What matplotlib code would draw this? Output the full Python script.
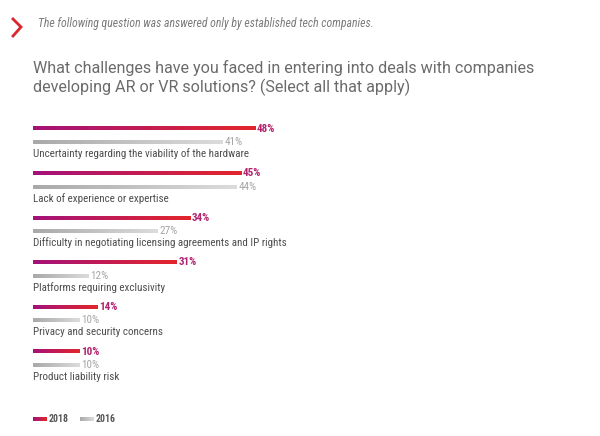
import matplotlib.pyplot as plt
import matplotlib.colors as mcolors
import numpy as np

challenges = [
    'Uncertainty regarding the viability of the hardware',
    'Lack of experience or expertise',
    'Difficulty in negotiating licensing agreements and IP rights',
    'Platforms requiring exclusivity',
    'Privacy and security concerns',
    'Product liability risk',
]
values_2018 = [48, 45, 34, 31, 14, 10]
values_2016 = [41, 44, 27, 12, 10, 10]

title = ('What challenges have you faced in entering into deals with companies\n'
         'developing AR or VR solutions? (Select all that apply)')
note = 'The following question was answered only by established tech companies.'

cmap_2018 = mcolors.LinearSegmentedColormap.from_list('y2018', ['#a3127a', '#e3262b'])
cmap_2016 = mcolors.LinearSegmentedColormap.from_list('y2016', ['#a9a9a9', '#dcdcdc'])
grad = np.linspace(0, 1, 256).reshape(1, -1)

COND = ['Roboto Condensed', 'Liberation Sans Narrow', 'Roboto']
plt.rcParams['font.family'] = COND

fig = plt.figure(figsize=(6, 4.36), dpi=100)
fig.patch.set_facecolor('white')
# x in percent, y in pixels from the top
ax = fig.add_axes([33 / 600, 0, 462.5 / 600, 1])
ax.set_xlim(0, 100)
ax.set_ylim(436, 0)
ax.axis('off')

top = 128.5
step = 44.6
bar_h = 4
for i, name in enumerate(challenges):
    y1 = top + i * step
    y2 = y1 + 13.5
    ax.imshow(grad, cmap=cmap_2018, aspect='auto', interpolation='bicubic',
              extent=[0, values_2018[i], y1 + bar_h / 2, y1 - bar_h / 2])
    ax.imshow(grad, cmap=cmap_2016, aspect='auto', interpolation='bicubic',
              extent=[0, values_2016[i], y2 + bar_h / 2, y2 - bar_h / 2])
    ax.text(values_2018[i] + 0.4, y1, f'{values_2018[i]}%', fontsize=8,
            fontweight='bold', color='#b3246f', va='center', ha='left')
    ax.text(values_2016[i] + 0.4, y2, f'{values_2016[i]}%', fontsize=8,
            color='#a6a6a6', va='center', ha='left')
    ax.text(0, y2 + 11.5, name, fontsize=7.9, color='#4d4d4d', va='center', ha='left')

# legend
ly = 419
ax.imshow(grad, cmap=cmap_2018, aspect='auto', extent=[0, 2.9, ly + 2, ly - 2])
ax.text(3.4, ly, '2018', fontsize=7, fontweight='bold', color='#555555', va='center')
ax.imshow(grad, cmap=cmap_2016, aspect='auto', extent=[10.2, 13.1, ly + 2, ly - 2])
ax.text(13.6, ly, '2016', fontsize=7, fontweight='bold', color='#555555', va='center')

fig.text(33 / 600, 1 - 78 / 436, title, fontsize=11.6, color='#6b6b6b',
         family=['Roboto'], va='center', ha='left', linespacing=1.2)
fig.text(38 / 600, 1 - 24 / 436, note, fontsize=8.5, color='#7a7a7a',
         style='italic', va='center', ha='left')
# red chevron
fig.lines.append(plt.Line2D([13 / 600, 21 / 600, 13 / 600],
                            [1 - 19 / 436, 1 - 27 / 436, 1 - 36 / 436],
                            transform=fig.transFigure, color='#d9262c', lw=2,
                            solid_joinstyle='miter'))

fig.savefig('out.png', dpi=100)
